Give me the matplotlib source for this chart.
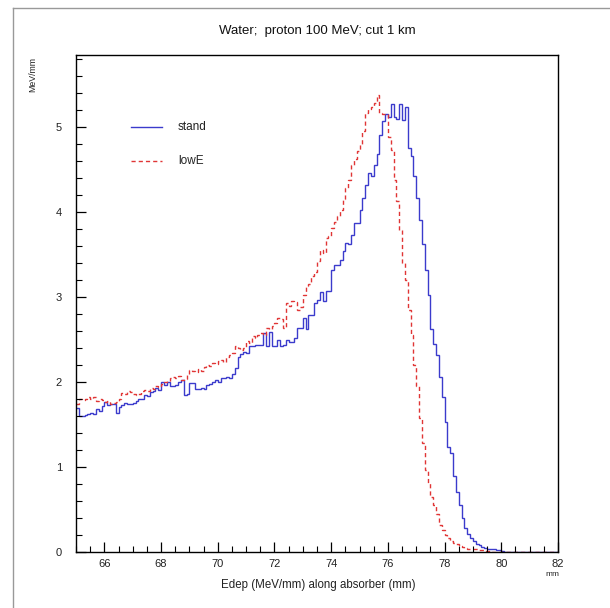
import numpy as np
import matplotlib
matplotlib.use("Agg")
import matplotlib.pyplot as plt
from matplotlib.lines import Line2D
from matplotlib.ticker import MultipleLocator

# ---------------- data ----------------
x_start = 65.0
bin_width = 0.1

stand = [
    1.69, 1.60, 1.60, 1.61, 1.62, 1.64, 1.62, 1.68, 1.66, 1.72,
    1.76, 1.73, 1.74, 1.74, 1.64, 1.71, 1.73, 1.75, 1.74, 1.74,
    1.75, 1.78, 1.80, 1.80, 1.85, 1.84, 1.88, 1.90, 1.93, 1.91,
    2.00, 1.96, 2.00, 1.95, 1.95, 1.96, 2.00, 2.02, 1.85, 1.86,
    1.99, 1.99, 1.92, 1.92, 1.93, 1.92, 1.96, 1.98, 2.00, 2.02,
    2.00, 2.05, 2.05, 2.06, 2.05, 2.10, 2.16, 2.30, 2.33, 2.36,
    2.34, 2.42, 2.42, 2.44, 2.44, 2.44, 2.58, 2.42, 2.59, 2.42,
    2.42, 2.50, 2.43, 2.44, 2.50, 2.47, 2.47, 2.52, 2.64, 2.64,
    2.76, 2.62, 2.79, 2.79, 2.93, 2.97, 3.06, 2.96, 3.07, 3.07,
    3.32, 3.38, 3.38, 3.44, 3.54, 3.64, 3.62, 3.73, 3.87, 3.87,
    4.03, 4.17, 4.32, 4.46, 4.42, 4.56, 4.68, 4.91, 5.07, 5.15,
    5.12, 5.27, 5.12, 5.10, 5.27, 5.08, 5.24, 4.76, 4.66, 4.42,
    4.17, 3.91, 3.62, 3.32, 3.03, 2.63, 2.45, 2.32, 2.06, 1.83,
    1.53, 1.24, 1.16, 0.90, 0.71, 0.55, 0.40, 0.28, 0.21, 0.16,
    0.13, 0.10, 0.08, 0.06, 0.05, 0.04, 0.03, 0.03, 0.02, 0.02,
    0.01, 0.00, 0.00, 0.00, 0.00, 0.00, 0.00, 0.00, 0.00, 0.00,
    0.00, 0.00, 0.00, 0.00, 0.00, 0.00, 0.00, 0.00, 0.00, 0.00,
]

lowE = [
    1.74, 1.80, 1.79, 1.80, 1.82, 1.80, 1.82, 1.78, 1.80, 1.79,
    1.77, 1.78, 1.74, 1.75, 1.77, 1.80, 1.87, 1.86, 1.89, 1.88,
    1.86, 1.85, 1.86, 1.90, 1.91, 1.90, 1.93, 1.92, 1.95, 1.94,
    1.98, 2.00, 2.01, 2.05, 2.06, 2.05, 2.07, 2.03, 2.04, 2.10,
    2.14, 2.13, 2.12, 2.15, 2.13, 2.18, 2.20, 2.19, 2.22, 2.21,
    2.25, 2.26, 2.24, 2.29, 2.32, 2.34, 2.42, 2.40, 2.38, 2.40,
    2.48, 2.46, 2.54, 2.52, 2.55, 2.58, 2.56, 2.64, 2.63, 2.66,
    2.70, 2.76, 2.74, 2.64, 2.93, 2.90, 2.95, 2.94, 2.85, 2.88,
    3.03, 3.13, 3.15, 3.25, 3.30, 3.42, 3.56, 3.52, 3.70, 3.72,
    3.81, 3.88, 3.95, 4.03, 4.15, 4.28, 4.38, 4.56, 4.62, 4.72,
    4.80, 4.95, 5.17, 5.22, 5.24, 5.29, 5.38, 5.17, 5.15, 5.15,
    4.89, 4.73, 4.38, 4.13, 3.79, 3.40, 3.20, 2.85, 2.55, 2.20,
    1.95, 1.58, 1.28, 0.97, 0.81, 0.65, 0.55, 0.45, 0.32, 0.26,
    0.20, 0.16, 0.13, 0.11, 0.09, 0.07, 0.06, 0.05, 0.04, 0.04,
    0.03, 0.03, 0.02, 0.02, 0.01, 0.01, 0.00, 0.00, 0.00, 0.00,
    0.00, 0.00, 0.00, 0.00, 0.00, 0.00, 0.00, 0.00, 0.00, 0.00,
    0.00, 0.00, 0.00, 0.00, 0.00, 0.00, 0.00, 0.00, 0.00, 0.00,
]

series_labels = ["stand", "lowE"]
title = "Water;  proton 100 MeV; cut 1 km"
xlabel = "Edep (MeV/mm) along absorber (mm)"
ylabel = "MeV/mm"
xunit = "mm"
x_ticks = [66, 68, 70, 72, 74, 76, 78, 80, 82]
y_ticks = [0, 1, 2, 3, 4, 5]

# ---------------- figure ----------------
W, H = 610, 608
plt.rcParams['font.family'] = ['Liberation Sans', 'DejaVu Sans']
fig = plt.figure(figsize=(W / 100, H / 100), dpi=100)
fig.patch.set_facecolor('white')

def fx(px):
    return px / W

def fy(py):
    return 1 - py / H

ax_l, ax_r, ax_t, ax_b = 76, 558, 55, 552
ax = fig.add_axes([fx(ax_l), fy(ax_b), fx(ax_r) - fx(ax_l), fy(ax_t) - fy(ax_b)])

blue = '#3b3bcc'
red = '#e03535'

edges = x_start + bin_width * np.arange(len(stand) + 1)
ax.stairs(stand, edges, color=blue, linewidth=1.0, baseline=None)
ax.stairs(lowE, x_start + bin_width * np.arange(len(lowE) + 1), color=red,
          linewidth=1.0, linestyle=(0, (3, 2.2)), baseline=None)

ax.set_xlim(65, 82)
ax.set_ylim(0, 5.85)

for s in ax.spines.values():
    s.set_linewidth(1.0)
    s.set_color('black')

ax.xaxis.set_major_locator(MultipleLocator(2))
ax.xaxis.set_minor_locator(MultipleLocator(0.5))
ax.yaxis.set_major_locator(MultipleLocator(1))
ax.yaxis.set_minor_locator(MultipleLocator(0.2))
ax.set_xticks(x_ticks)
ax.set_yticks(y_ticks)
ax.set_xticklabels([str(t) for t in x_ticks])
ax.set_yticklabels([str(t) for t in y_ticks])

ax.tick_params(axis='both', which='both', direction='in', top=False, right=False,
               colors='black', labelcolor='#222222')
ax.tick_params(axis='x', which='major', length=7, width=0.9, pad=5, labelsize=8)
ax.tick_params(axis='x', which='minor', length=4, width=0.8)
ax.tick_params(axis='y', which='major', length=7, width=0.9, pad=10, labelsize=8)
ax.tick_params(axis='y', which='minor', length=4, width=0.8)

# title and axis labels
fig.text(fx(317), fy(31), title, ha='center', va='center', fontsize=9.5, color='#111111')
fig.text(fx(318), fy(585), xlabel, ha='center', va='center', fontsize=8.3, color='#222222')
fig.text(fx(552), fy(574), xunit, ha='center', va='center', fontsize=6.0, color='#222222')
fig.text(fx(33), fy(57), ylabel, ha='center', va='top', rotation=90, fontsize=6.3, color='#222222')

# legend
ax.add_line(Line2D([0.114, 0.178], [0.856, 0.856], transform=ax.transAxes, color=blue, linewidth=1.0))
ax.add_line(Line2D([0.114, 0.178], [0.787, 0.787], transform=ax.transAxes, color=red,
                   linewidth=1.0, linestyle=(0, (3, 2.2))))
ax.text(0.2116, 0.856, series_labels[0], transform=ax.transAxes, ha='left', va='center',
        fontsize=8.5, color='#222222')
ax.text(0.2116, 0.787, series_labels[1], transform=ax.transAxes, ha='left', va='center',
        fontsize=8.5, color='#222222')

# outer canvas border (left and top edges)
fig.add_artist(Line2D([fx(13), fx(13)], [fy(8), 0], transform=fig.transFigure, color='#999999', linewidth=1.0))
fig.add_artist(Line2D([fx(13), 1], [fy(8), fy(8)], transform=fig.transFigure, color='#999999', linewidth=1.0))

fig.savefig('out.png', dpi=100, facecolor='white')
